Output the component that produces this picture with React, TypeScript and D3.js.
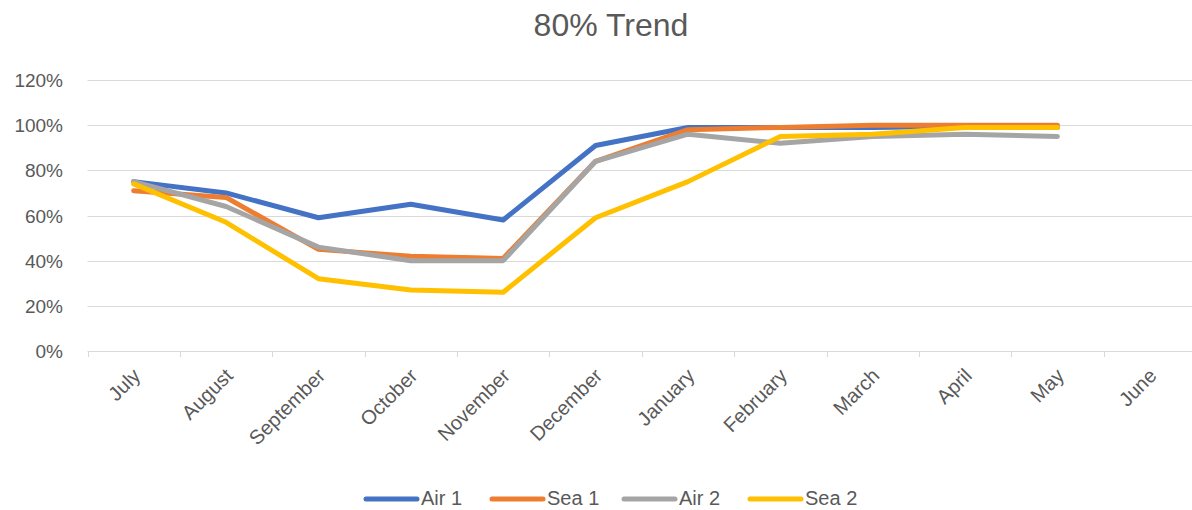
import React, { useEffect, useRef } from 'react'
import * as d3 from 'd3'

const months = ['July', 'August', 'September', 'October', 'November', 'December', 'January', 'February', 'March', 'April', 'May', 'June']
const air1 = [75, 70, 59, 65, 58, 91, 99, 99, 99, 99.5, 99]
const sea1 = [71, 68, 45, 42, 41, 84, 98, 99, 100, 100, 100]
const air2 = [75, 64, 46, 40, 40, 84, 96, 92, 95, 96, 95]
const sea2 = [74, 57, 32, 27, 26, 59, 75, 95, 96, 99, 99]
const seriesNames = ['Air 1', 'Sea 1', 'Air 2', 'Sea 2']
const colors = ['#4472c4', '#ed7d31', '#a5a5a5', '#ffc000']
const yTicks = [0, 20, 40, 60, 80, 100, 120]

export default function App() {
    const ref = useRef<SVGSVGElement | null>(null)
    const width = 1192
    const height = 510

    function drawChart() {
        const svg = d3.select(ref.current)
        svg.selectAll('*').remove()
        const font = "'Liberation Sans', Arial, sans-serif"
        const left = 87.5, right = 1196, top = 80, bottom = 351

        const x = d3.scaleBand().domain(months).range([left, right])
        const y = d3.scaleLinear().domain([0, 120]).range([bottom, top])

        svg.append('text')
            .attr('x', 611)
            .attr('y', 36)
            .attr('text-anchor', 'middle')
            .attr('font-family', font)
            .attr('font-size', 32)
            .attr('fill', '#595959')
            .text('80% Trend')

        // gridlines
        svg.append('g')
            .selectAll('line')
            .data(yTicks.filter(d => d > 0))
            .enter().append('line')
            .attr('x1', left).attr('x2', width)
            .attr('y1', d => Math.round(y(d)) + 0.5).attr('y2', d => Math.round(y(d)) + 0.5)
            .attr('stroke', '#d9d9d9').attr('stroke-width', 1)

        // y labels
        svg.append('g')
            .selectAll('text')
            .data(yTicks)
            .enter().append('text')
            .attr('x', 63)
            .attr('y', d => y(d) + 7)
            .attr('text-anchor', 'end')
            .attr('font-family', font)
            .attr('font-size', 19)
            .attr('fill', '#595959')
            .text(d => d + '%')

        // x axis
        const ax = svg.append('g')
        ax.append('line')
            .attr('x1', left).attr('x2', width)
            .attr('y1', bottom + 0.5).attr('y2', bottom + 0.5)
            .attr('stroke', '#d9d9d9')
        ax.selectAll('.tick')
            .data(months)
            .enter().append('line')
            .attr('x1', d => Math.round(x(d)!) + 0.5).attr('x2', d => Math.round(x(d)!) + 0.5)
            .attr('y1', bottom).attr('y2', bottom + 6)
            .attr('stroke', '#d9d9d9')
        ax.selectAll('text')
            .data(months)
            .enter().append('text')
            .attr('transform', d => `translate(${x(d)! + x.bandwidth() / 2 + 8},${bottom + 26}) rotate(-45)`)
            .attr('text-anchor', 'end')
            .attr('font-family', font)
            .attr('font-size', 20)
            .attr('fill', '#595959')
            .text(d => d)

        const all = [air1, sea1, air2, sea2]
        const line = d3.line<number>()
            .x((d, i) => x(months[i])! + x.bandwidth() / 2)
            .y(d => y(d))

        all.forEach((s, i) => {
            svg.append('path')
                .datum(s)
                .attr('d', line)
                .attr('fill', 'none')
                .attr('stroke', colors[i])
                .attr('stroke-width', 5)
                .attr('stroke-linejoin', 'round')
                .attr('stroke-linecap', 'round')
        })

        // legend
        const legX = [364, 490, 622, 748]
        const lg = svg.append('g')
        seriesNames.forEach((n, i) => {
            lg.append('line')
                .attr('x1', legX[i] + 2).attr('x2', legX[i] + 53)
                .attr('y1', 499).attr('y2', 499)
                .attr('stroke', colors[i]).attr('stroke-width', 5)
                .attr('stroke-linecap', 'round')
            lg.append('text')
                .attr('x', legX[i] + 57)
                .attr('y', 505)
                .attr('font-family', font)
                .attr('font-size', 20)
                .attr('fill', '#595959')
                .text(n)
        })
    }

    useEffect(() => {
        drawChart()
    }, [])

    return (
        <div>
            <svg ref={ref} width={width} height={height}
                style={{ position: 'absolute', left: 0, top: 0, display: 'block' }} />
        </div>
    )
}
